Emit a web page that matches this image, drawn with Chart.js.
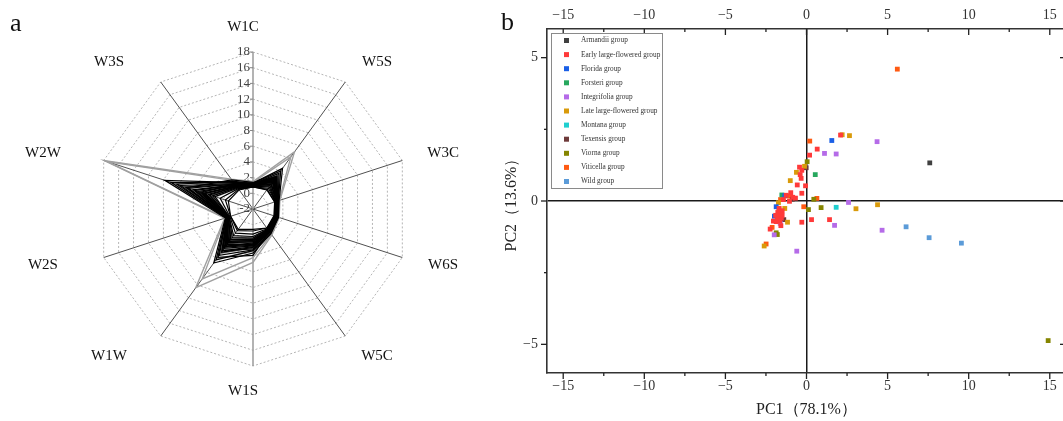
<!DOCTYPE html>
<html><head><meta charset="utf-8">
<script src="https://cdn.jsdelivr.net/npm/chart.js@4.4.1/dist/chart.umd.min.js"></script>
<style>
html,body{margin:0;padding:0;background:#fff;overflow:hidden;width:1063px;height:421px;position:relative;}
.wrap{position:absolute;top:0;}
.panel{position:absolute;font-family:"Liberation Serif",serif;font-size:26px;color:#111;line-height:1;}
</style></head><body>
<div class="wrap" style="left:0;width:500px;height:421px"><canvas id="c1" width="500" height="421"></canvas></div>
<div class="wrap" style="left:470px;width:610px;height:421px"><canvas id="c2" width="610" height="421"></canvas></div>
<div class="panel" style="left:10px;top:10px">a</div>
<div class="panel" style="left:501px;top:9px">b</div>
<script>
// ---------- Panel a: radar ----------
const radarLabels = ['W1C','W5S','W3C','W6S','W5C','W1S','W1W','W2S','W2W','W3S'];
const radarTicks = [-2,0,2,4,6,8,10,12,14,16,18];
const radarLightRows = [
  [1.5,7.0,1.6,1.5,2.1,4.8,10.4,1.8,17.9,2.7],
  [1.4,6.2,1.5,1.4,2.0,4.2,9.0,1.7,17.6,2.5],
  [1.3,3.8,1.4,1.3,1.8,3.4,5.8,1.6,8.6,2.1],
  [1.2,3.0,1.3,1.2,1.6,2.6,4.4,1.5,6.4,2.4],
  [1.1,2.5,1.2,1.1,1.5,2.9,5.0,1.4,5.2,1.7],
  [1.0,2.0,1.1,1.0,1.3,2.0,3.2,1.3,4.2,1.5],
  [0.9,1.6,1.0,1.0,1.2,1.6,2.4,1.2,3.0,1.3]
];
const radarMidRows = [
  [1.2,3.3,1.3,1.3,1.6,3.0,4.9,1.5,7.2,1.9],
  [1.1,2.8,1.3,1.2,1.5,2.4,3.9,1.4,5.8,1.8],
  [1.0,2.3,1.2,1.1,1.4,2.2,3.4,1.4,4.6,1.6],
  [0.9,1.8,1.1,1.0,1.3,1.8,2.7,1.3,3.6,1.4]
];
const radarBlackRows = [
  [1.3,4.4,1.5,1.4,1.9,3.6,6.5,1.7,9.8,2.2],
  [1.3,4.0,1.4,1.4,1.8,3.3,6.0,1.6,9.0,2.1],
  [1.2,3.6,1.4,1.3,1.7,3.2,5.3,1.6,7.7,2.0],
  [1.2,3.2,1.3,1.3,1.6,2.9,4.8,1.5,7.0,1.9],
  [1.2,3.1,1.3,1.2,1.6,2.8,4.6,1.5,6.6,1.9],
  [1.2,2.9,1.3,1.2,1.5,2.7,4.2,1.5,6.0,1.8],
  [1.1,2.8,1.3,1.2,1.5,2.6,4.0,1.5,5.7,1.8],
  [1.1,2.6,1.2,1.2,1.5,2.5,3.8,1.4,5.3,1.7],
  [1.0,2.5,1.2,1.1,1.4,2.4,3.6,1.4,5.0,1.7],
  [1.0,2.3,1.2,1.1,1.4,2.2,3.3,1.4,4.6,1.6],
  [1.0,2.2,1.1,1.1,1.4,2.1,3.1,1.3,4.4,1.6],
  [1.0,2.0,1.1,1.0,1.3,2.0,2.9,1.3,4.0,1.5],
  [0.9,1.9,1.1,1.0,1.3,1.9,2.8,1.3,3.8,1.5],
  [0.9,1.7,1.0,1.0,1.2,1.7,2.5,1.2,3.4,1.4],
  [0.9,1.5,1.0,1.0,1.2,1.5,2.2,1.2,3.1,1.3],
  [0.8,1.3,1.0,0.9,1.1,1.2,1.8,1.1,2.4,1.2],
  [0.8,1.1,0.9,0.9,1.0,0.8,1.4,1.0,1.7,1.1],
  [0.8,1.0,0.9,0.8,1.0,0.6,1.2,1.0,1.3,1.0],
  [1.0,2.4,1.2,1.2,1.5,3.9,5.6,1.5,4.8,2.0],
  [1.2,3.0,1.3,1.2,1.6,2.3,3.9,1.5,8.2,2.4],
  [1.1,2.7,1.2,1.1,1.5,3.1,4.5,1.4,4.4,1.6],
  [1.4,2.4,1.2,1.1,1.4,2.6,3.5,1.5,6.8,2.6]
];

// ---------- Panel b: PCA scatter ----------
const groupNames = ['Armandii group','Early large-flowered group','Florida group','Forsteri group','Integrifolia group','Late large-flowered group','Montana group','Texensis group','Viorna group','Viticella group','Wild group'];
const groupColors = ['#404040','#ff3a3a','#1a5fe6','#27a85e','#b56be8','#d99a0a','#20cfcf','#6e3a3a','#858500','#ff5a12','#5b9bd8'];
const armandii = [[7.6,1.33]];
const earlyLarge = [[2.1,2.3],[0.66,1.81],[0.19,1.6],[-0.43,1.18],[-0.29,1.07],[-0.39,0.92],[-0.33,0.79],[-0.57,0.56],[-0.06,0.53],[-0.29,0.27],[-0.97,0.29],[-0.85,0.13],[-0.68,0.1],[-1.42,0.05],[-1.05,-0.01],[-1.69,-0.26],[-1.5,-0.34],[-1.77,-0.4],[-1.9,-0.5],[-1.7,-0.55],[-1.55,-0.6],[-1.8,-0.65],[-1.6,-0.45],[-1.65,-0.7],[-1.5,-0.5],[-2.04,-0.7],[-1.87,-0.72],[-1.58,-0.86],[-2.24,-0.98],[-0.29,-0.74],[0.31,-0.65],[1.42,-0.65],[-1.25,0.2]];
const florida = [[1.56,2.11],[-1.34,0.19],[-1.87,-0.2],[-1.98,-0.53]];
const forsteri = [[0.54,0.92],[-1.52,0.21]];
const integrifolia = [[4.35,2.07],[1.11,1.66],[1.83,1.64],[2.59,-0.05],[1.73,-0.85],[4.66,-1.02],[-1.62,-0.78],[-1.99,-1.18],[-0.6,-1.75]];
const lateLarge = [[2.2,2.31],[2.65,2.28],[-0.12,1.21],[-0.62,1.0],[-1.0,0.71],[-1.73,-0.06],[-1.34,-0.26],[4.38,-0.13],[3.05,-0.27],[-1.17,-0.74],[-2.61,-1.57]];
const montana = [[1.83,-0.22]];
const texensis = [[-0.02,1.16],[-0.88,0.06],[-1.4,-0.65]];
const viorna = [[0.04,1.37],[0.45,0.06],[0.12,-0.3],[0.9,-0.23],[-1.87,-1.11],[-1.8,-1.17],[14.9,-4.87]];
const viticella = [[5.6,4.6],[0.2,2.09],[-1.1,0.17],[0.64,0.09],[-1.6,0.05],[-0.17,-0.2],[-1.7,-0.27],[-2.12,-0.92],[-2.49,-1.5]];
const wild = [[6.14,-0.9],[7.56,-1.28],[9.55,-1.47]];
const groupData = [armandii,earlyLarge,florida,forsteri,integrifolia,lateLarge,montana,texensis,viorna,viticella,wild];
const xMajor = [-15,-10,-5,0,5,10,15];
const xMinor = [-12.5,-7.5,-2.5,2.5,7.5,12.5];
const yMajor = [-5,0,5];
const yMinor = [-2.5,2.5];
const xTitle = 'PC1（78.1%）';
const yTitle = 'PC2（13.6%）';

const SERIF = '"Liberation Serif","Times New Roman",serif';

// ---------- radar chart ----------
const radarDatasets = [];
const pushRows = (rows, color, w) => rows.forEach(r => radarDatasets.push({data: r, borderColor: color, borderWidth: w, fill: false, pointRadius: 0, tension: 0}));
pushRows(radarBlackRows, '#000000', 1.2);
pushRows(radarMidRows, '#555555', 1.2);
pushRows(radarLightRows, '#a0a0a0', 1.4);

const radarDecor = {
  id: 'radarDecor',
  beforeDatasetsDraw(chart) {
    const s = chart.scales.r, ctx = chart.ctx;
    ctx.save();
    ctx.font = '13px ' + SERIF;
    ctx.fillStyle = '#444';
    ctx.strokeStyle = '#888';
    ctx.lineWidth = 1;
    ctx.textAlign = 'right';
    ctx.textBaseline = 'middle';
    radarTicks.forEach(v => {
      const y = s.yCenter - s.getDistanceFromCenterForValue(v);
      ctx.fillText(String(v), s.xCenter - 3, y);
      ctx.beginPath(); ctx.moveTo(s.xCenter - 3, y); ctx.lineTo(s.xCenter, y); ctx.stroke();
    });
    ctx.restore();
  },
  afterDraw(chart) {
    const s = chart.scales.r, ctx = chart.ctx;
    ctx.save();
    ctx.font = '15px ' + SERIF;
    ctx.fillStyle = '#111';
    ctx.textAlign = 'center';
    ctx.textBaseline = 'middle';
    radarLabels.forEach((lab, i) => {
      const p = s.getPointPosition(i, s.drawingArea + 25);
      let dx = -10;
      if (p.x > s.xCenter + 1) dx += 27; else if (p.x < s.xCenter - 1) dx -= 27;
      ctx.fillText(lab, p.x + dx, p.y);
    });
    ctx.restore();
  }
};

new Chart(document.getElementById('c1'), {
  type: 'radar',
  data: {labels: radarLabels, datasets: radarDatasets},
  options: {
    responsive: false, animation: false,
    layout: {padding: {left: 96, top: 52, right: 90, bottom: 55}},
    plugins: {legend: {display: false}, tooltip: {enabled: false}},
    scales: {
      r: {
        min: -2, max: 18,
        ticks: {display: false, stepSize: 2},
        pointLabels: {display: false},
        grid: {color: '#b5b5b5', lineWidth: 1, circular: false},
        border: {dash: [2, 2]},
        angleLines: {color: (c) => (c.index === 0 || c.index === 5) ? '#9a9a9a' : '#505050', lineWidth: (c) => (c.index === 0 || c.index === 5) ? 1.5 : 1}
      }
    }
  },
  plugins: [radarDecor]
});

// ---------- scatter chart ----------
const scatterDatasets = groupNames.map((name, i) => ({
  label: name,
  data: groupData[i].map(p => ({x: p[0], y: p[1]})),
  backgroundColor: groupColors[i],
  borderWidth: 0,
  pointStyle: 'rect',
  pointRadius: 3.4
}));

const fmt = v => String(v).replace('-', '\u2212');
const setTicks = (arr) => (s) => { s.ticks = arr.map(v => ({value: v})); };

const frameDecor = {
  id: 'frameDecor',
  afterDraw(chart) {
    const {ctx, chartArea: a, scales} = chart;
    const sx = scales.x, sy = scales.y;
    ctx.save();
    ctx.strokeStyle = '#222';
    ctx.lineWidth = 1.3;
    const ln = (x1, y1, x2, y2) => { ctx.beginPath(); ctx.moveTo(x1, y1); ctx.lineTo(x2, y2); ctx.stroke(); };
    xMajor.forEach(v => { const p = sx.getPixelForValue(v); ln(p, a.bottom, p, a.bottom + 6); ln(p, a.top, p, a.top + 6); });
    xMinor.forEach(v => { const p = sx.getPixelForValue(v); ln(p, a.bottom, p, a.bottom + 3); ln(p, a.top, p, a.top + 3); });
    yMajor.forEach(v => { const p = sy.getPixelForValue(v); ln(a.left - 6, p, a.left, p); ln(a.right - 6, p, a.right, p); });
    yMinor.forEach(v => { const p = sy.getPixelForValue(v); ln(a.left - 3, p, a.left, p); ln(a.right - 3, p, a.right, p); });
    // legend box
    const bx = a.left + 4, by = a.top + 4, bw = 111, rowH = 14.1, bh = 155;
    ctx.fillStyle = '#fff';
    ctx.fillRect(bx, by, bw, bh);
    ctx.strokeStyle = '#8a8a8a';
    ctx.lineWidth = 1;
    ctx.strokeRect(bx + 0.5, by + 0.5, bw, bh);
    ctx.font = '7.3px ' + SERIF;
    ctx.textBaseline = 'middle';
    ctx.textAlign = 'left';
    chart.data.datasets.forEach((d, i) => {
      const yy = by + 7.5 + i * rowH;
      ctx.fillStyle = d.backgroundColor;
      ctx.fillRect(bx + 13, yy - 2.5, 5, 5);
      ctx.fillStyle = '#333';
      ctx.fillText(d.label, bx + 30, yy);
    });
    ctx.restore();
  }
};

const zeroGrid = (c) => (c.tick && c.tick.value === 0) ? '#1a1a1a' : 'rgba(0,0,0,0)';

new Chart(document.getElementById('c2'), {
  type: 'scatter',
  data: {datasets: scatterDatasets},
  options: {
    responsive: false, animation: false,
    layout: {padding: 0},
    plugins: {legend: {display: false}, tooltip: {enabled: false}},
    scales: {
      x: {
        type: 'linear', position: 'bottom', min: -16, max: 16,
        afterBuildTicks: setTicks(xMajor),
        afterFit: (s) => { s.height = 48; },
        ticks: {callback: fmt, font: {family: SERIF, size: 14}, color: '#333', padding: 5, maxRotation: 0},
        grid: {color: zeroGrid, lineWidth: 1.5, drawTicks: false},
        border: {display: true, color: '#333', width: 1.6},
        title: {display: true, text: xTitle, font: {family: SERIF, size: 16, lineHeight: 1.2}, color: '#222', padding: {top: 0, bottom: 2}}
      },
      x2: {
        type: 'linear', position: 'top', min: -16, max: 16,
        afterBuildTicks: setTicks(xMajor),
        afterFit: (s) => { s.height = 29; },
        ticks: {callback: fmt, font: {family: SERIF, size: 14}, color: '#333', padding: 5, maxRotation: 0},
        grid: {display: false, drawTicks: false},
        border: {display: true, color: '#333', width: 1.6}
      },
      y: {
        type: 'linear', position: 'left', min: -6, max: 6,
        afterBuildTicks: setTicks(yMajor),
        afterFit: (s) => { s.width = 77; },
        ticks: {callback: fmt, font: {family: SERIF, size: 14}, color: '#333', padding: 9},
        grid: {color: zeroGrid, lineWidth: 1.5, drawTicks: false},
        border: {display: true, color: '#333', width: 1.6},
        title: {display: true, text: yTitle, font: {family: SERIF, size: 16, lineHeight: 1.2}, color: '#222', padding: {top: 32, bottom: 0}}
      },
      y2: {
        type: 'linear', position: 'right', min: -6, max: 6,
        afterBuildTicks: setTicks(yMajor),
        afterFit: (s) => { s.width = 14; },
        ticks: {display: false},
        grid: {display: false, drawTicks: false},
        border: {display: true, color: '#333', width: 1.6}
      }
    }
  },
  plugins: [frameDecor]
});
</script>
</body></html>
